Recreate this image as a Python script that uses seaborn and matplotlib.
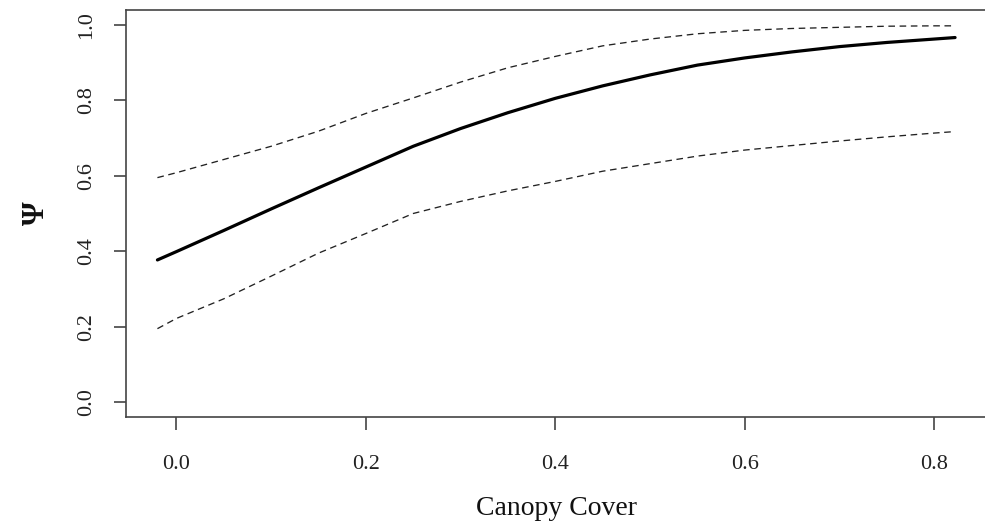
import matplotlib
matplotlib.use("Agg")
import matplotlib.pyplot as plt
import seaborn as sns
import pandas as pd

# Canopy cover values (x) and estimated occupancy (Psi) with confidence bounds
canopy = [-0.02, 0.00, 0.05, 0.10, 0.15, 0.20, 0.25, 0.30, 0.35, 0.40,
          0.45, 0.50, 0.55, 0.60, 0.65, 0.70, 0.75, 0.80, 0.822]
psi_mean = [0.377, 0.399, 0.455, 0.512, 0.568, 0.623, 0.678, 0.725, 0.767, 0.805,
            0.838, 0.867, 0.893, 0.912, 0.928, 0.942, 0.953, 0.962, 0.966]
psi_upper = [0.595, 0.608, 0.643, 0.678, 0.718, 0.765, 0.806, 0.848, 0.886, 0.916,
             0.944, 0.962, 0.976, 0.985, 0.990, 0.993, 0.996, 0.997, 0.997]
psi_lower = [0.195, 0.222, 0.274, 0.334, 0.395, 0.447, 0.500, 0.532, 0.560, 0.585,
             0.612, 0.632, 0.652, 0.668, 0.680, 0.692, 0.703, 0.713, 0.717]

x_ticks = [0.0, 0.2, 0.4, 0.6, 0.8]
y_ticks = [0.0, 0.2, 0.4, 0.6, 0.8, 1.0]
x_label = "Canopy Cover"
y_label = "Ψ"

df = pd.DataFrame({"canopy": canopy, "mean": psi_mean,
                   "upper": psi_upper, "lower": psi_lower})

sns.set_style("ticks")
plt.rcParams["font.family"] = ["Liberation Serif", "DejaVu Serif"]

fig = plt.figure(figsize=(9.85, 5.26), dpi=100)
ax = fig.add_axes([125.5 / 985, (526 - 417.4) / 526, (987 - 125.5) / 985, (417.4 - 9.6) / 526])

sns.lineplot(data=df, x="canopy", y="mean", ax=ax, color="black", lw=2.3)
sns.lineplot(data=df, x="canopy", y="upper", ax=ax, color="#222222", lw=0.95,
             dashes=False).lines[-1].set_dashes((5, 3.5))
sns.lineplot(data=df, x="canopy", y="lower", ax=ax, color="#222222", lw=0.95,
             dashes=False).lines[-1].set_dashes((5, 3.5))

ax.set_xlim(-0.0537, 0.8557)
ax.set_ylim(-0.04, 1.04)
ax.set_xticks(x_ticks)
ax.set_xticklabels([f"{v:.1f}" for v in x_ticks])
ax.set_yticks(y_ticks)
ax.set_yticklabels([f"{v:.1f}" for v in y_ticks], rotation=90, va="center")

for s in ax.spines.values():
    s.set_color("#444444")
    s.set_linewidth(1.2)
    s.set_visible(True)

ax.tick_params(axis="both", direction="out", length=9, width=1.2, color="#444444",
               labelsize=16, labelcolor="#222222")
ax.tick_params(axis="x", pad=18)
ax.tick_params(axis="y", pad=12)

ax.set_xlabel(x_label, fontsize=20, color="#111111", labelpad=16)
ax.set_ylabel(y_label, fontsize=22, fontweight="bold", color="#111111",
              rotation=90, labelpad=19)

fig.savefig("out.png", dpi=100)
